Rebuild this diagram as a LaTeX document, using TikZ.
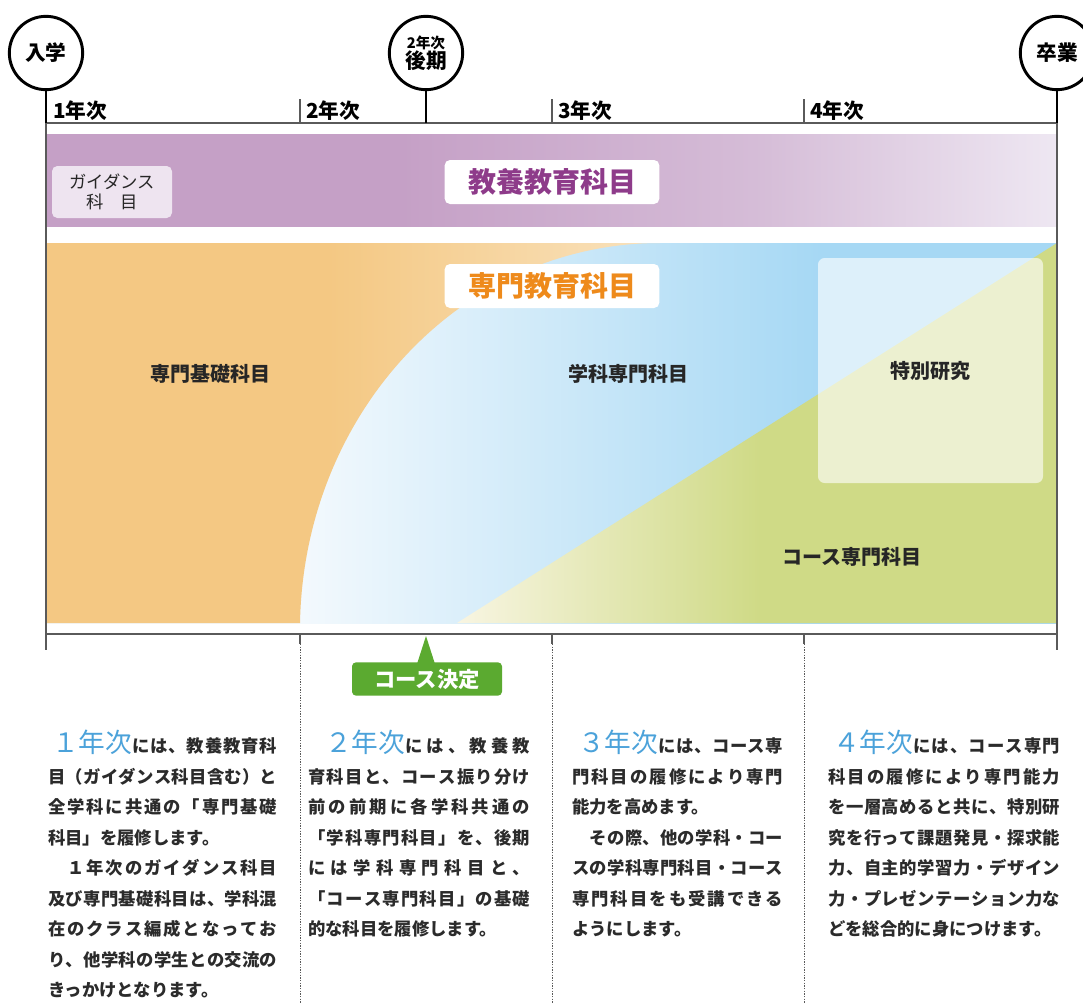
\documentclass[tikz,border=0pt]{standalone}
\usepackage{fontspec}
\setmainfont{Noto Sans CJK JP}
\newlength\pxu \setlength\pxu{0.75pt}
\makeatletter
\def\jsp#1{\jsp@#1\@nil}
\def\jsp@#1#2\@nil{#1\if\relax\detokenize{#2}\relax\else\hskip0pt plus 1fil\relax\jsp@#2\@nil\fi}
\makeatother
\definecolor{purA}{HTML}{C5A0C6}
\definecolor{purB}{HTML}{D5BCD7}
\definecolor{purC}{HTML}{EEE7F2}
\definecolor{guid}{HTML}{EEE4F0}
\definecolor{purText}{HTML}{8E3B8A}
\definecolor{orA}{HTML}{F4C883}
\definecolor{orB}{HTML}{F9E2BD}
\definecolor{orText}{HTML}{EE8A1B}
\definecolor{blA}{HTML}{F3F9FD}
\definecolor{blB}{HTML}{A6D8F4}
\definecolor{grA}{HTML}{F8F5E2}
\definecolor{grB}{HTML}{CFDA86}
\definecolor{greenL}{HTML}{5BAA30}
\definecolor{yrBlue}{HTML}{4BA2DA}
\definecolor{txt}{HTML}{2B2B2B}
\definecolor{lineg}{HTML}{5A5A5A}
% horizontal shadings over the band width 46..1057 px (mapped to 25bp..75bp)
\pgfdeclarehorizontalshading{purshade}{100bp}{color(0bp)=(purA); color(42.5bp)=(purA); color(60bp)=(purB); color(75bp)=(purC); color(100bp)=(purC)}
\pgfdeclarehorizontalshading{orshade}{100bp}{color(0bp)=(orA); color(39bp)=(orA); color(55.4bp)=(orB); color(100bp)=(orB)}
\pgfdeclarehorizontalshading{blshade}{100bp}{color(0bp)=(blA); color(37.6bp)=(blA); color(63.3bp)=(blB); color(100bp)=(blB)}
\pgfdeclarehorizontalshading{grshade}{100bp}{color(0bp)=(grA); color(45.3bp)=(grA); color(60.3bp)=(grB); color(100bp)=(grB)}
\newcommand\bigyr[1]{{\mdseries\color{yrBlue}\fontsize{20pt}{20pt}\selectfont #1}}
\newcommand\J[2]{\makebox[#1\pxu][s]{\jsp{#2}}}
\newcommand\F[3]{\makebox[#1\pxu][s]{\bigyr{#2}\jsp{#3}}}
\tikzset{
  body/.style={inner sep=0pt, anchor=base west, text=txt, font=\bfseries\fontsize{13pt}{15pt}\selectfont},
  circ/.style={circle, draw=black, line width=2.2pt, fill=white, minimum size=55pt, inner sep=0pt, align=center, font=\bfseries\fontsize{15.5pt}{17pt}\selectfont},
  stem/.style={line width=2.2pt, black},
  thinl/.style={line width=0.9pt, lineg},
  dotl/.style={line width=0.7pt, lineg, dash pattern=on 1pt off 1pt},
  yrlabel/.style={inner sep=0pt, anchor=base west, font=\bfseries\fontsize{15.5pt}{17pt}\selectfont},
  region/.style={inner sep=0pt, font=\bfseries\fontsize{15pt}{17pt}\selectfont, text=black!85},
  titlebox/.style={fill=white, rounded corners=4pt, minimum width=161pt, minimum height=33pt, inner sep=0pt, font=\bfseries\fontsize{21pt}{23pt}\selectfont},
}
\begin{document}
\begin{tikzpicture}[x=0.75pt,y=-0.75pt]
\useasboundingbox (0,0) rectangle (1083,1003);
\fill[white] (0,0) rectangle (1083,1003);

% ---------- purple band
\shade[shading=purshade] (46,134) rectangle (1057,226);
\node[fill=guid, rounded corners=4pt, minimum width=90pt, minimum height=39pt, inner sep=0pt, align=center,
      font=\fontsize{13pt}{15.5pt}\selectfont, text=black!85] (guide) at (112,192) {ガイダンス\\科　目};
\node[titlebox, text=purText] (kyoyo) at (552,182) {教養教育科目};

% ---------- main band
\shade[shading=blshade] (46,243) rectangle (1057,623);
\begin{scope}
\clip (46,243) -- (660,243) .. controls (461,243) and (304,413) .. (300,623) -- (46,623) -- cycle;
\shade[shading=orshade] (46,243) rectangle (1057,623);
\end{scope}
\begin{scope}
\clip (457,623) -- (1057,243) -- (1057,623) -- cycle;
\shade[shading=grshade] (46,243) rectangle (1057,623);
\end{scope}
\node[fill=white, fill opacity=0.62, text opacity=1, rounded corners=5pt, minimum width=168.75pt, minimum height=168.75pt, inner sep=0pt,
      font=\bfseries\fontsize{15pt}{17pt}\selectfont, text=black!85] (toku) at (930.5,370.5) {特別研究};
\node[titlebox, text=orText] (senmon) at (552,286) {専門教育科目};
\node[region] (kiso) at (210,374) {専門基礎科目};
\node[region] (gakka) at (628,374) {学科専門科目};
\node[region] (course) at (852,557) {コース専門科目};

% ---------- timeline
\coordinate (L0) at (46,123);
\coordinate (R0) at (1057,123);
\coordinate (M0) at (426,123);
\draw[thinl] (L0) -- (R0);
\draw[thinl] (L0) -- (46,650);
\draw[thinl] (R0) -- (1057,650);
\draw[thinl] (46,634) -- (1057,634);
\foreach \x in {300,552,804} {
  \draw[thinl] (\x,99) -- (\x,123);
  \draw[thinl] (\x,634) -- (\x,644);
  \draw[dotl] (\x,644) -- (\x,1003);
}
\node[circ] (nyu) at (46,53) {入学};
\node[circ] (kouki) at (426,53) {{\fontsize{11pt}{11pt}\selectfont 2年次}\\[-2pt]後期};
\node[circ] (sotsu) at (1057,53) {卒業};
\draw[stem] (nyu.south) -- (L0);
\draw[stem] (kouki.south) -- (M0);
\draw[stem] (sotsu.south) -- (R0);
\node[yrlabel] (y1) at (53,118) {1年次};
\node[yrlabel] (y2) at (306,118) {2年次};
\node[yrlabel] (y3) at (558,118) {3年次};
\node[yrlabel] (y4) at (810,118) {4年次};

% ---------- course decision
\node[fill=greenL, rounded corners=3pt, minimum width=112.5pt, minimum height=25pt, inner sep=0pt, text=white,
      font=\bfseries\fontsize{16pt}{18pt}\selectfont] (kettei) at (427,679) {コース決定};
\coordinate (kapex) at (426,636);
\fill[greenL] (417,664) -- (kapex) -- (435,664) -- cycle;

% ---------- column 1
\node[body] (c1r1) at (52,752.5) {\F{225}{１年次}{には、教養教育科}};
\node[body] (c1r2) at (48,783) {\J{229}{目（ガイダンス科目含む）と}};
\node[body] (c1r3) at (48,813.6) {\J{229}{全学科に共通の「専門基礎}};
\node[body] (c1r4) at (48,844.2) {科目」を履修します。};
\node[body] (c1r5) at (48,874.7) {\J{229}{　１年次のガイダンス科目}};
\node[body] (c1r6) at (48,905.2) {\J{229}{及び専門基礎科目は、学科混}};
\node[body] (c1r7) at (48,935.8) {\J{229}{在のクラス編成となってお}};
\node[body] (c1r8) at (48,966.4) {\J{229}{り、他学科の学生との交流の}};
\node[body] (c1r9) at (48,996.9) {きっかけとなります。};

% ---------- column 2
\node[body] (c2r1) at (325,752.5) {\F{205}{２年次}{には、教養教}};
\node[body] (c2r2) at (308,783) {\J{222}{育科目と、コース振り分け}};
\node[body] (c2r3) at (308,813.6) {\J{222}{前の前期に各学科共通の}};
\node[body] (c2r4) at (308,844.2) {\J{222}{「学科専門科目」を、後期}};
\node[body] (c2r5) at (308,874.7) {\J{222}{には学科専門科目と、}};
\node[body] (c2r6) at (308,905.2) {\J{222}{「コース専門科目」の基礎}};
\node[body] (c2r7) at (308,935.8) {的な科目を履修します。};

% ---------- column 3
\node[body] (c3r1) at (578,752.5) {\F{205}{３年次}{には、コース専}};
\node[body] (c3r2) at (572,783) {\J{211}{門科目の履修により専門}};
\node[body] (c3r3) at (572,813.6) {能力を高めます。};
\node[body] (c3r4) at (572,844.2) {\J{211}{　その際、他の学科・コー}};
\node[body] (c3r5) at (572,874.7) {\J{211}{スの学科専門科目・コース}};
\node[body] (c3r6) at (572,905.2) {\J{211}{専門科目をも受講できる}};
\node[body] (c3r7) at (572,935.8) {ようにします。};

% ---------- column 4
\node[body] (c4r1) at (833,752.5) {\F{227}{４年次}{には、コース専門}};
\node[body] (c4r2) at (828,783) {\J{232}{科目の履修により専門能力}};
\node[body] (c4r3) at (828,813.6) {\J{232}{を一層高めると共に、特別研}};
\node[body] (c4r4) at (828,844.2) {\J{232}{究を行って課題発見・探求能}};
\node[body] (c4r5) at (828,874.7) {\J{232}{力、自主的学習力・デザイン}};
\node[body] (c4r6) at (828,905.2) {\J{232}{力・プレゼンテーション力な}};
\node[body] (c4r7) at (828,935.8) {どを総合的に身につけます。};
\end{tikzpicture}
\end{document}
